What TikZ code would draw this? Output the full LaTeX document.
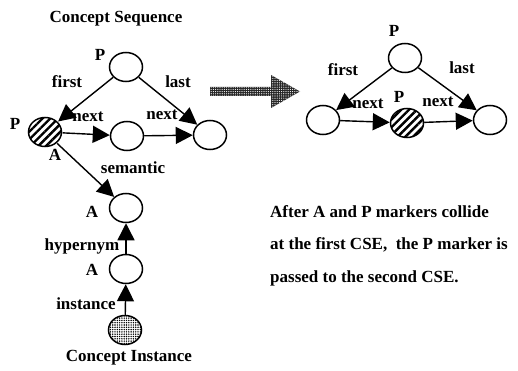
\documentclass[tikz,border=0pt]{standalone}
\usepackage{fontspec}
\setmainfont{Liberation Serif}
\usetikzlibrary{arrows.meta,shapes.geometric,patterns.meta}
\begin{document}
\begin{tikzpicture}[x=1pt,y=-1pt,
  font=\fontsize{17}{20}\selectfont\bfseries,
  cse/.style={ellipse,draw,line width=1.5pt,minimum width=33pt,minimum height=29pt,inner sep=0pt,fill=white},
  hatched/.style={cse,pattern={Lines[angle=45,distance=5.5pt,line width=2.4pt]}},
  dotted inst/.style={cse,pattern={Dots[distance=2.3pt,radius=0.8pt]}},
  link/.style={line width=1.4pt,-{Triangle[length=17pt,width=17pt]}},
  lbl/.style={inner sep=0pt},
  caption/.style={inner sep=0pt,anchor=west}]
\useasboundingbox (0,0) rectangle (518,371);

% ---- left: concept sequence before the collision ----
\node[lbl] (title) at (116,19) {Concept Sequence};
\node[cse] (top) at (126,67) {};
\node[hatched] (hat) at (45,132) {};
\node[cse] (mid) at (127,136) {};
\node[cse] (right) at (210,135) {};
\node[cse] (aone) at (126,208) {};
\node[cse] (atwo) at (126,269) {};
\node[dotted inst] (inst) at (125,330) {};
\node[lbl] (insttitle) at (129,358) {Concept Instance};

\draw[link] (top) -- (hat);
\draw[link] (top) -- (right);
\draw[link] (hat) -- (mid);
\draw[link] (mid) -- (right);
\draw[link] (hat) -- (aone);
\draw[link] (atwo) -- (aone);
\draw[link] (inst) -- (atwo);

\node[lbl] (ptop) at (100,55) {P};
\node[lbl] (first) at (67,82) {first};
\node[lbl] (last) at (178,82) {last};
\node[lbl] (pleft) at (15,124) {P};
\node[lbl] (nextone) at (88,117) {next};
\node[lbl] (nexttwo) at (162,115) {next};
\node[lbl] (aleft) at (55,155) {A};
\node[lbl] (sem) at (133,168) {semantic};
\node[lbl] (aa) at (92,212) {A};
\node[lbl] (hyp) at (82,246) {hypernym};
\node[lbl] (ab) at (92,270) {A};
\node[lbl] (insl) at (86,304) {instance};

% ---- transition arrow, stippled ----
\path[fill=black!85,postaction={pattern={Dots[distance=2.2pt,radius=0.6pt]},pattern color=white}]
  (210,87) -- (271,87) -- (271,75) -- (300,91.5) -- (271,108) -- (271,96) -- (210,96) -- cycle;

% ---- right: concept sequence after the collision ----
\node[cse] (rtop) at (405,58) {};
\node[cse] (rleft) at (323,120) {};
\node[hatched] (rhat) at (407,123) {};
\node[cse] (rright) at (490,120) {};

\draw[link] (rtop) -- (rleft);
\draw[link] (rtop) -- (rright);
\draw[link] (rleft) -- (rhat);
\draw[link] (rhat) -- (rright);

\node[lbl] (rptop) at (394,31) {P};
\node[lbl] (rpmid) at (399,97) {P};
\node[lbl] (rfirst) at (343,70) {first};
\node[lbl] (rlast) at (462,68) {last};
\node[lbl] (rnextone) at (368,104) {next};
\node[lbl] (rnexttwo) at (438,102) {next};

% ---- explanation ----
\node[caption] (lineone) at (270,212) {After A and P markers collide};
\node[caption] (linetwo) at (270,245) {at the first CSE,\ \ the P marker is};
\node[caption] (linethree) at (270,278) {passed to the second CSE.};
\end{tikzpicture}
\end{document}
